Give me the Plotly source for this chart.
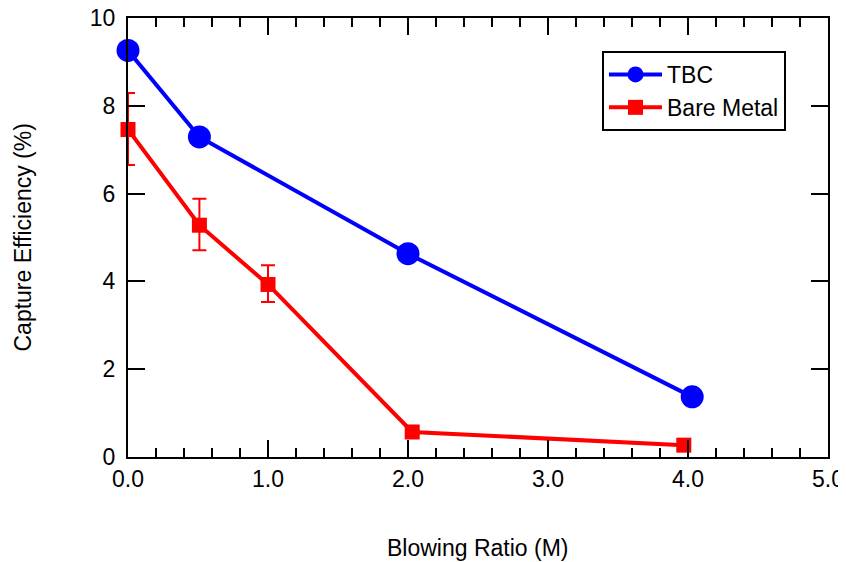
import plotly.graph_objects as go

# Data
tbc_x = [0.0, 0.51, 2.0, 4.03]
tbc_y = [9.26, 7.29, 4.63, 1.37]

bare_x = [0.0, 0.51, 1.0, 2.03, 3.97]
bare_y = [7.46, 5.28, 3.93, 0.57, 0.27]
bare_err_plus = [0.83, 0.60, 0.44, 0.0, 0.0]
bare_err_minus = [0.81, 0.57, 0.40, 0.0, 0.0]

x_tick_vals = [0, 1, 2, 3, 4, 5]
x_tick_text = ["0.0", "1.0", "2.0", "3.0", "4.0", "5.0"]

FONT = "Liberation Sans, Arial, sans-serif"

fig = go.Figure()
fig.add_trace(go.Scatter(
    x=tbc_x, y=tbc_y, name="TBC", mode="lines+markers",
    line=dict(color="#0000FF", width=4),
    marker=dict(symbol="circle", size=23, color="#0000FF"),
    cliponaxis=False,
))
fig.add_trace(go.Scatter(
    x=bare_x, y=bare_y, name="Bare Metal", mode="lines+markers",
    line=dict(color="#FF0000", width=4),
    marker=dict(symbol="square", size=15, color="#FF0000"),
    error_y=dict(type="data", symmetric=False, array=bare_err_plus,
                 arrayminus=bare_err_minus, color="#FF0000",
                 thickness=2, width=7),
    cliponaxis=False,
))

axis_common = dict(
    showline=True, linecolor="black", linewidth=2, mirror="allticks",
    ticks="inside", tickcolor="black", tickwidth=2, ticklen=17,
    showgrid=False, zeroline=False, automargin=False,
    ticklabeloverflow="allow",
    tickfont=dict(family=FONT, size=23, color="black"),
)

fig.update_xaxes(
    range=[0, 5], tickvals=x_tick_vals, ticktext=x_tick_text,
    minor=dict(ticks="inside", dtick=0.2, ticklen=9, tickwidth=2,
               tickcolor="black", showgrid=False),
    **axis_common,
)
fig.update_yaxes(
    range=[0, 10], dtick=2, tick0=0, ticklabelstandoff=6,
    **axis_common,
)

fig.add_annotation(
    text="Blowing Ratio (M)", xref="paper", yref="paper",
    x=0.5, y=(457 - 548) / 439, xanchor="center", yanchor="middle",
    showarrow=False, font=dict(family=FONT, size=23, color="black"),
)
fig.add_annotation(
    text="Capture Efficiency (%)", xref="paper", yref="paper",
    x=(22 - 128) / 700, y=0.5, xanchor="center", yanchor="middle",
    textangle=-90, showarrow=False,
    font=dict(family=FONT, size=23, color="black"),
)

# The page body adds an 8px offset, so margins are shifted by 8px
fig.update_layout(
    width=846, height=562,
    margin=dict(l=120, r=26, t=10, b=113),
    paper_bgcolor="white", plot_bgcolor="white",
    font=dict(family=FONT, size=23, color="black"),
    showlegend=True,
    legend=dict(x=(602 - 128) / 700, y=(457 - 51) / 439,
                xanchor="left", yanchor="top",
                bordercolor="black", borderwidth=2, bgcolor="white",
                font=dict(family=FONT, size=23, color="black"),
                tracegroupgap=0, itemwidth=53),
)

fig.write_html("out.html")
